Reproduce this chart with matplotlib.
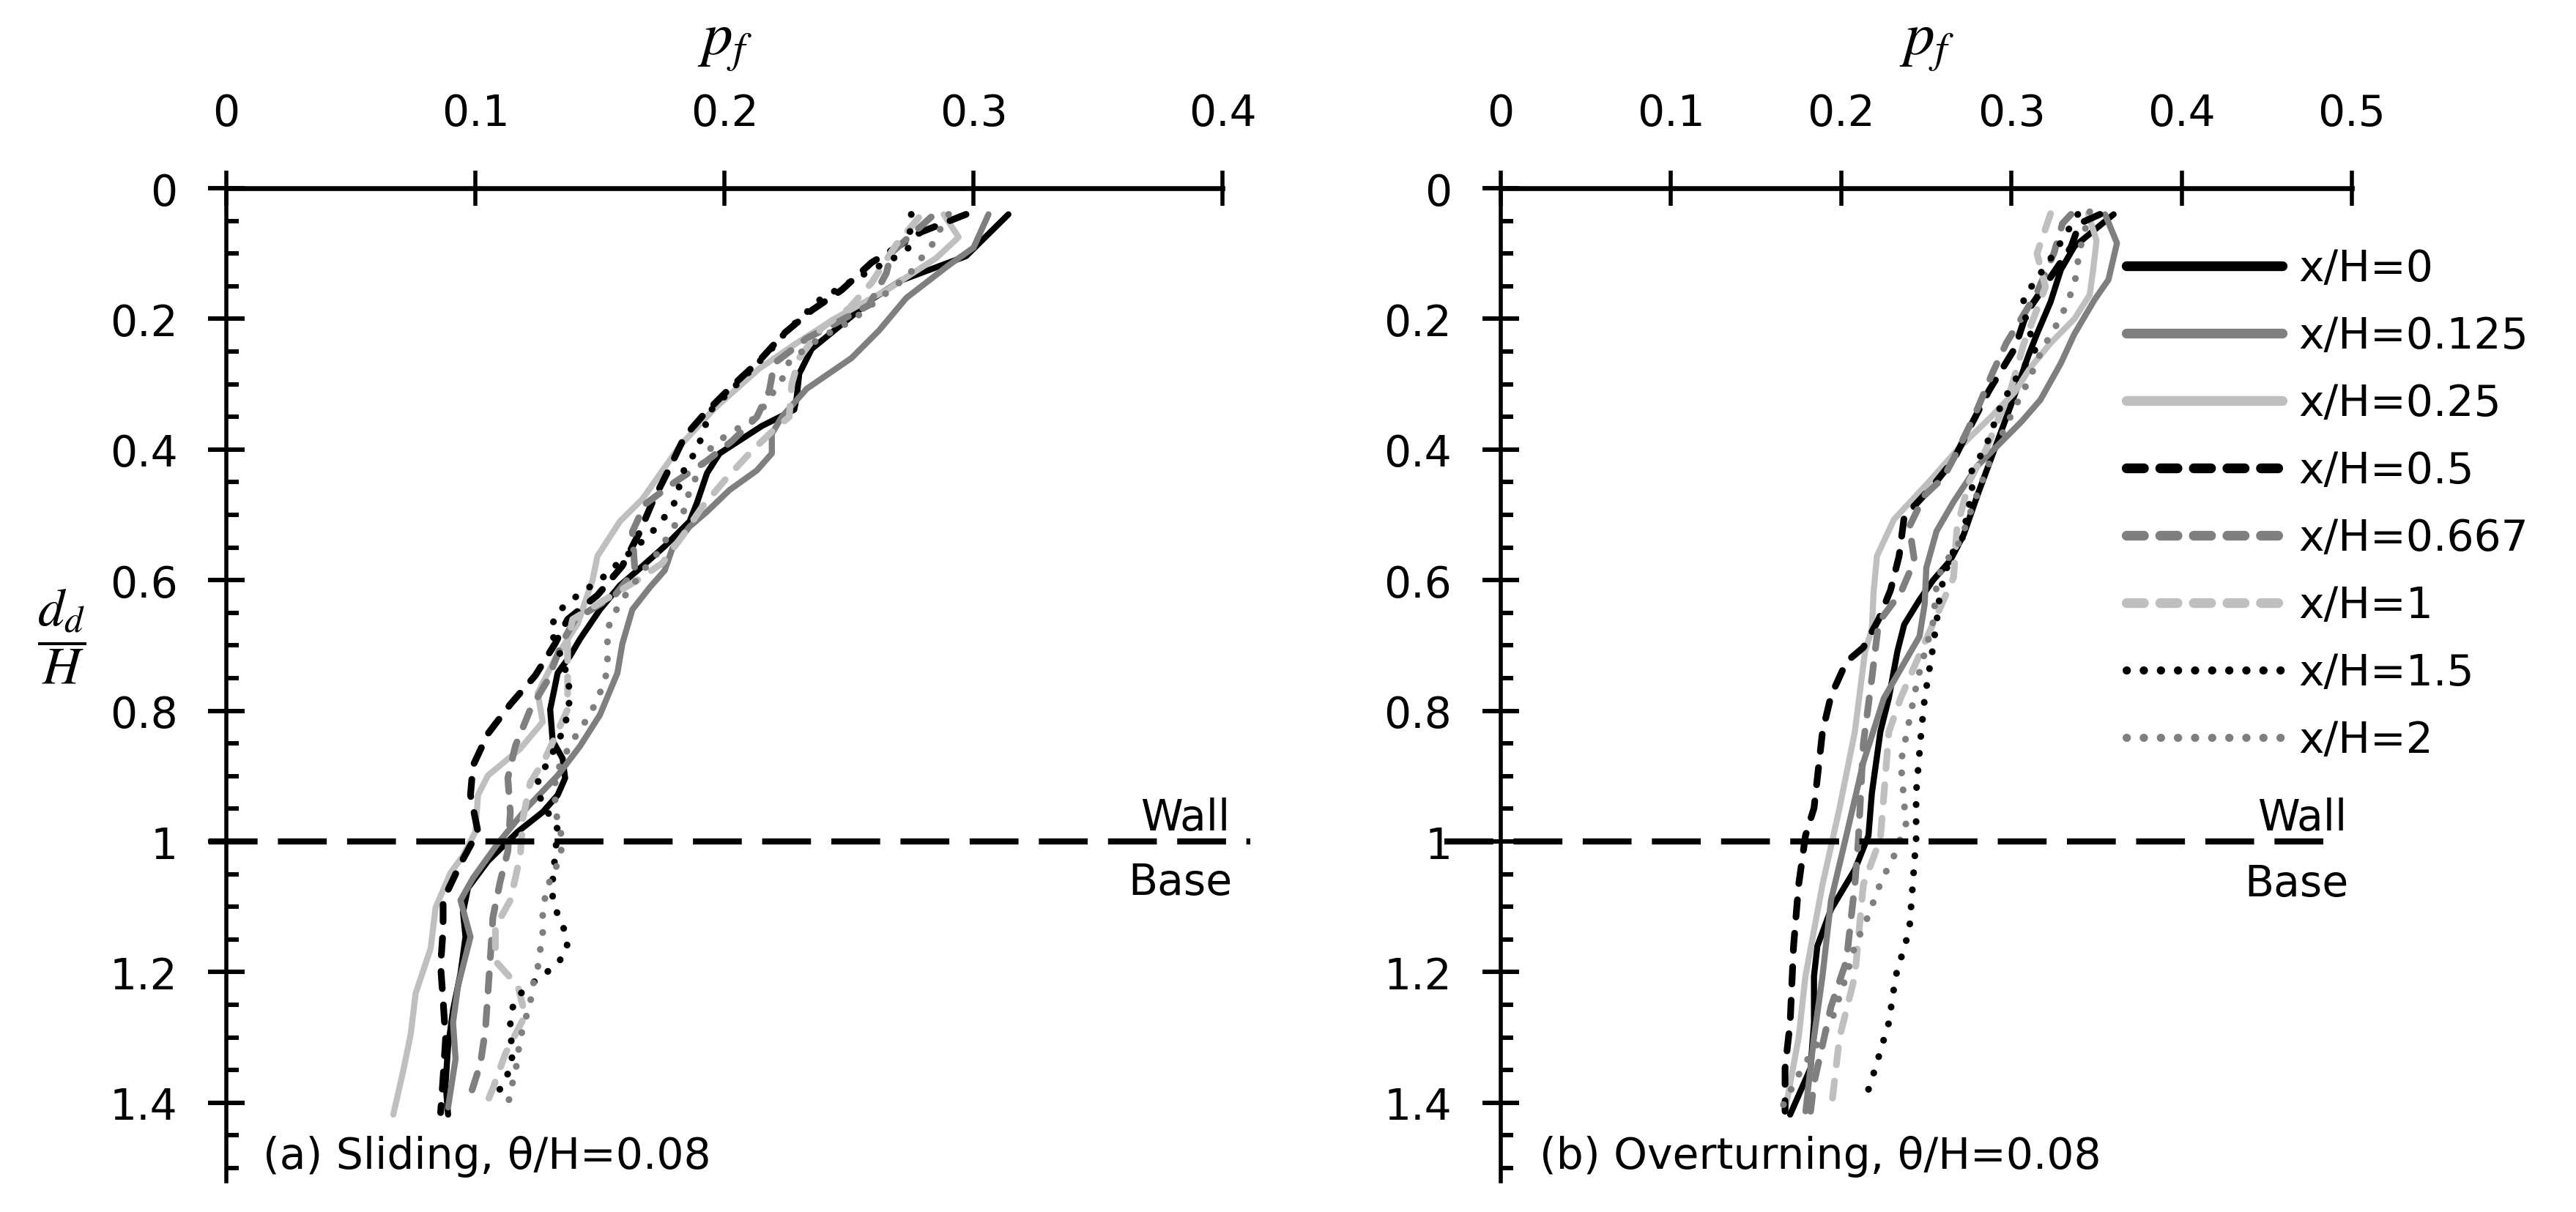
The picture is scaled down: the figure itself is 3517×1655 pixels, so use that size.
import matplotlib
matplotlib.use("Agg")
import matplotlib.pyplot as plt
from matplotlib.ticker import FixedLocator

plt.rcParams['font.family'] = ['DejaVu Sans']
plt.rcParams['font.size'] = 21
plt.rcParams['mathtext.fontset'] = 'stix'
plt.rcParams['lines.scale_dashes'] = False

labels = ["x/H=0", "x/H=0.125", "x/H=0.25", "x/H=0.5",
          "x/H=0.667", "x/H=1", "x/H=1.5", "x/H=2"]

# (a) sliding: depth d_d/H and p_f for every x/H
sl_d0 = [0.04, 0.104, 0.141, 0.168, 0.19, 0.246, 0.284, 0.32, 0.339, 0.364, 0.406, 0.436, 0.481, 0.510, 0.548, 0.582, 0.608, 0.645, 0.69, 0.716, 0.742, 0.798, 0.846, 0.873, 0.903, 0.929, 0.955, 0.985, 1.030, 1.071, 1.108, 1.146, 1.202, 1.258, 1.314, 1.370, 1.418]
sl_p0 = [0.314, 0.297, 0.271, 0.260, 0.253, 0.235, 0.230, 0.229, 0.228, 0.215, 0.198, 0.193, 0.189, 0.186, 0.176, 0.166, 0.158, 0.150, 0.142, 0.138, 0.133, 0.130, 0.131, 0.135, 0.136, 0.133, 0.127, 0.117, 0.105, 0.097, 0.095, 0.096, 0.094, 0.091, 0.089, 0.088, 0.089]
sl_d1 = [0.04, 0.091, 0.118, 0.168, 0.218, 0.260, 0.307, 0.35, 0.376, 0.406, 0.432, 0.462, 0.495, 0.518, 0.552, 0.585, 0.611, 0.645, 0.697, 0.742, 0.806, 0.854, 0.899, 0.947, 1.003, 1.056, 1.090, 1.146, 1.221, 1.277, 1.333, 1.407]
sl_p1 = [0.306, 0.300, 0.290, 0.273, 0.262, 0.251, 0.233, 0.223, 0.219, 0.219, 0.213, 0.202, 0.193, 0.186, 0.179, 0.176, 0.170, 0.163, 0.159, 0.157, 0.150, 0.142, 0.133, 0.121, 0.109, 0.099, 0.094, 0.098, 0.093, 0.091, 0.092, 0.089]
sl_d2 = [0.04, 0.075, 0.107, 0.156, 0.198, 0.237, 0.276, 0.337, 0.395, 0.476, 0.510, 0.563, 0.600, 0.667, 0.720, 0.773, 0.817, 0.858, 0.899, 0.929, 0.985, 1.022, 1.048, 1.101, 1.164, 1.232, 1.295, 1.351, 1.418]
sl_p2 = [0.288, 0.294, 0.285, 0.265, 0.245, 0.229, 0.214, 0.196, 0.182, 0.167, 0.158, 0.149, 0.147, 0.141, 0.132, 0.125, 0.127, 0.118, 0.105, 0.101, 0.100, 0.095, 0.090, 0.084, 0.082, 0.076, 0.074, 0.071, 0.067]
sl_d3 = [0.04, 0.067, 0.114, 0.156, 0.187, 0.222, 0.264, 0.303, 0.345, 0.380, 0.428, 0.481, 0.526, 0.578, 0.623, 0.660, 0.697, 0.746, 0.790, 0.835, 0.884, 0.929, 0.985, 1.034, 1.090, 1.135, 1.190, 1.243, 1.302, 1.362, 1.415]
sl_p3 = [0.297, 0.279, 0.259, 0.247, 0.235, 0.224, 0.214, 0.203, 0.192, 0.184, 0.178, 0.171, 0.166, 0.159, 0.149, 0.137, 0.132, 0.124, 0.114, 0.105, 0.099, 0.098, 0.101, 0.094, 0.087, 0.087, 0.086, 0.087, 0.088, 0.087, 0.086]
sl_d4 = [0.044, 0.099, 0.13, 0.179, 0.206, 0.230, 0.268, 0.310, 0.350, 0.387, 0.417, 0.450, 0.484, 0.526, 0.585, 0.623, 0.660, 0.694, 0.753, 0.798, 0.854, 0.903, 0.955, 1.015, 1.060, 1.116, 1.176, 1.232, 1.288, 1.340, 1.400]
sl_p4 = [0.283, 0.267, 0.265, 0.258, 0.245, 0.233, 0.220, 0.218, 0.213, 0.203, 0.193, 0.180, 0.168, 0.163, 0.164, 0.156, 0.140, 0.135, 0.129, 0.122, 0.116, 0.113, 0.114, 0.113, 0.110, 0.107, 0.106, 0.105, 0.104, 0.102, 0.097]
sl_d5 = [0.045, 0.086, 0.145, 0.184, 0.214, 0.260, 0.30, 0.35, 0.369, 0.402, 0.443, 0.488, 0.533, 0.574, 0.600, 0.660, 0.697, 0.798, 0.873, 0.910, 0.966, 1.022, 1.090, 1.131, 1.183, 1.221, 1.266, 1.325, 1.378, 1.415]
sl_p5 = [0.278, 0.269, 0.259, 0.250, 0.239, 0.230, 0.227, 0.226, 0.220, 0.211, 0.201, 0.191, 0.183, 0.175, 0.165, 0.139, 0.137, 0.137, 0.128, 0.122, 0.119, 0.118, 0.114, 0.108, 0.108, 0.117, 0.120, 0.112, 0.107, 0.103]
sl_d6 = [0.04, 0.091, 0.107, 0.14, 0.176, 0.195, 0.214, 0.25, 0.30, 0.342, 0.380, 0.406, 0.428, 0.454, 0.481, 0.503, 0.526, 0.544, 0.582, 0.600, 0.615, 0.632, 0.649, 0.675, 0.723, 0.749, 0.775, 0.806, 0.832, 0.880, 0.903, 0.933, 0.955, 0.981, 1.02, 1.060, 1.086, 1.112, 1.138, 1.164, 1.187, 1.205, 1.222, 1.241, 1.266, 1.295, 1.322, 1.347, 1.372, 1.396]
sl_p6 = [0.275, 0.274, 0.268, 0.252, 0.236, 0.232, 0.226, 0.218, 0.205, 0.194, 0.191, 0.188, 0.184, 0.182, 0.180, 0.176, 0.171, 0.166, 0.155, 0.150, 0.144, 0.138, 0.133, 0.130, 0.135, 0.137, 0.138, 0.137, 0.135, 0.129, 0.125, 0.126, 0.129, 0.133, 0.132, 0.131, 0.131, 0.133, 0.136, 0.137, 0.133, 0.127, 0.121, 0.116, 0.114, 0.114, 0.115, 0.114, 0.111, 0.107]
sl_d7 = [0.04, 0.067, 0.089, 0.112, 0.133, 0.203, 0.230, 0.265, 0.287, 0.350, 0.364, 0.378, 0.394, 0.462, 0.492, 0.559, 0.582, 0.624, 0.649, 0.675, 0.701, 0.729, 0.755, 0.781, 0.806, 0.828, 0.852, 0.875, 0.899, 0.953, 0.980, 1.005, 1.034, 1.058, 1.084, 1.112, 1.140, 1.166, 1.193, 1.221, 1.247, 1.273, 1.301, 1.327, 1.355, 1.381, 1.407]
sl_p7 = [0.290, 0.286, 0.283, 0.278, 0.274, 0.251, 0.238, 0.226, 0.224, 0.213, 0.207, 0.201, 0.195, 0.186, 0.184, 0.173, 0.168, 0.160, 0.156, 0.153, 0.153, 0.153, 0.152, 0.149, 0.146, 0.142, 0.138, 0.135, 0.132, 0.132, 0.134, 0.135, 0.133, 0.130, 0.128, 0.127, 0.127, 0.126, 0.125, 0.123, 0.122, 0.120, 0.118, 0.117, 0.116, 0.114, 0.113]

# (b) overturning
ov_d0 = [0.04, 0.089, 0.125, 0.174, 0.223, 0.256, 0.33, 0.40, 0.47, 0.53, 0.570, 0.600, 0.630, 0.668, 0.709, 0.78, 0.832, 0.926, 0.991, 1.043, 1.104, 1.160, 1.206, 1.277, 1.347, 1.418]
ov_p0 = [0.360, 0.337, 0.329, 0.323, 0.315, 0.310, 0.300, 0.290, 0.280, 0.272, 0.264, 0.254, 0.246, 0.237, 0.233, 0.228, 0.223, 0.218, 0.216, 0.208, 0.194, 0.186, 0.184, 0.184, 0.182, 0.170]
ov_d1 = [0.04, 0.084, 0.14, 0.17, 0.223, 0.268, 0.324, 0.357, 0.399, 0.425, 0.480, 0.525, 0.581, 0.637, 0.686, 0.781, 0.879, 0.991, 1.090, 1.206, 1.300, 1.413]
ov_p1 = [0.355, 0.362, 0.357, 0.349, 0.337, 0.329, 0.317, 0.306, 0.290, 0.280, 0.266, 0.256, 0.250, 0.249, 0.246, 0.225, 0.213, 0.203, 0.194, 0.189, 0.184, 0.179]
ov_d2 = [0.039, 0.080, 0.125, 0.163, 0.200, 0.237, 0.275, 0.312, 0.35, 0.398, 0.451, 0.507, 0.563, 0.619, 0.675, 0.709, 0.832, 0.949, 1.066, 1.206, 1.300, 1.413]
ov_p2 = [0.345, 0.350, 0.348, 0.346, 0.337, 0.323, 0.311, 0.302, 0.288, 0.269, 0.251, 0.231, 0.221, 0.219, 0.218, 0.214, 0.208, 0.199, 0.189, 0.179, 0.175, 0.167]
ov_d3 = [0.04, 0.054, 0.09, 0.19, 0.245, 0.309, 0.369, 0.416, 0.455, 0.503, 0.563, 0.615, 0.660, 0.703, 0.725, 0.777, 0.832, 0.949, 0.991, 1.066, 1.160, 1.277, 1.347, 1.413]
ov_p3 = [0.352, 0.340, 0.335, 0.309, 0.302, 0.287, 0.275, 0.266, 0.254, 0.237, 0.234, 0.229, 0.222, 0.213, 0.203, 0.194, 0.189, 0.184, 0.179, 0.175, 0.172, 0.170, 0.167, 0.167]
ov_d4 = [0.04, 0.054, 0.099, 0.16, 0.237, 0.282, 0.35, 0.414, 0.443, 0.470, 0.518, 0.570, 0.619, 0.664, 0.75, 0.85, 1.0, 1.066, 1.183, 1.253, 1.370, 1.413]
ov_p4 = [0.335, 0.330, 0.325, 0.315, 0.297, 0.289, 0.278, 0.266, 0.260, 0.249, 0.240, 0.243, 0.235, 0.222, 0.218, 0.213, 0.210, 0.208, 0.203, 0.194, 0.184, 0.182]
ov_d5 = [0.039, 0.100, 0.151, 0.24, 0.305, 0.40, 0.45, 0.52, 0.596, 0.690, 0.78, 0.832, 0.996, 1.066, 1.206, 1.300, 1.413]
ov_p5 = [0.323, 0.315, 0.320, 0.307, 0.300, 0.285, 0.275, 0.268, 0.266, 0.250, 0.235, 0.228, 0.223, 0.213, 0.208, 0.199, 0.194]
ov_d6 = [0.04, 0.10, 0.146, 0.168, 0.196, 0.247, 0.290, 0.331, 0.395, 0.436, 0.462, 0.537, 0.563, 0.619, 0.645, 0.701, 0.781, 0.832, 0.926, 0.996, 1.066, 1.136, 1.206, 1.277, 1.347, 1.404]
ov_p6 = [0.339, 0.325, 0.313, 0.307, 0.308, 0.314, 0.303, 0.294, 0.285, 0.276, 0.277, 0.271, 0.264, 0.258, 0.257, 0.254, 0.249, 0.247, 0.244, 0.244, 0.242, 0.240, 0.232, 0.228, 0.220, 0.213]
ov_d7 = [0.036, 0.096, 0.148, 0.198, 0.247, 0.295, 0.320, 0.40, 0.488, 0.540, 0.581, 0.608, 0.664, 0.75, 0.879, 0.973, 1.029, 1.057, 1.113, 1.160, 1.206, 1.277, 1.347, 1.408]
ov_p7 = [0.346, 0.340, 0.337, 0.329, 0.318, 0.310, 0.305, 0.290, 0.277, 0.270, 0.259, 0.256, 0.254, 0.245, 0.235, 0.238, 0.230, 0.224, 0.216, 0.208, 0.203, 0.194, 0.177, 0.165]

sliding = [(sl_d0, sl_p0), (sl_d1, sl_p1), (sl_d2, sl_p2), (sl_d3, sl_p3),
           (sl_d4, sl_p4), (sl_d5, sl_p5), (sl_d6, sl_p6), (sl_d7, sl_p7)]
overturning = [(ov_d0, ov_p0), (ov_d1, ov_p1), (ov_d2, ov_p2), (ov_d3, ov_p3),
               (ov_d4, ov_p4), (ov_d5, ov_p5), (ov_d6, ov_p6), (ov_d7, ov_p7)]

ytick_vals = [0, 0.2, 0.4, 0.6, 0.8, 1.0, 1.2, 1.4]
ytick_labels = ["0", "0.2", "0.4", "0.6", "0.8", "1", "1.2", "1.4"]
xtick_a = ["0", "0.1", "0.2", "0.3", "0.4"]
xtick_b = ["0", "0.1", "0.2", "0.3", "0.4", "0.5"]

black, gray, light = '#000000', '#7f7f7f', '#bfbfbf'
dash = (0, (8.5, 8.0))
dot = (0, (0.1, 8.3))
styles = [('-', black), ('-', gray), ('-', light),
          (dash, black), (dash, gray), (dash, light),
          (dot, black), (dot, gray)]

fig = plt.figure(figsize=(3517 / 200, 1656 / 200), dpi=200)
ax_a = fig.add_axes([0.0879, 0.0254, 0.3867, 0.8188])
ax_b = fig.add_axes([0.5826, 0.0254, 0.3304, 0.8188])


def setup(ax, xmax, xlabels):
    ax.set_xlim(0, xmax)
    ax.set_ylim(1.52, 0)
    for s in ['bottom', 'right']:
        ax.spines[s].set_visible(False)
    ax.spines['top'].set_linewidth(2.4)
    ax.spines['left'].set_linewidth(2.0)
    ax.xaxis.tick_top()
    ax.set_xticks([i * 0.1 for i in range(len(xlabels))])
    ax.set_xticklabels(xlabels)
    ax.set_yticks(ytick_vals)
    ax.set_yticklabels(ytick_labels)
    ax.yaxis.set_minor_locator(FixedLocator([i * 0.05 for i in range(1, 31)]))
    ax.tick_params(axis='x', which='major', direction='inout', length=17,
                   width=2.0, pad=18)
    ax.tick_params(axis='y', which='major', direction='inout', length=18,
                   width=2.2, pad=15)
    ax.tick_params(axis='y', which='minor', direction='in', length=6, width=2.2)


def draw(ax, data):
    lines = []
    for (d, p), (ls, c) in zip(data, styles):
        lw = 3.0 if ls == '-' else 3.3
        ln, = ax.plot(p, d, linestyle=ls, color=c, lw=lw,
                      dash_capstyle='round', solid_capstyle='round',
                      solid_joinstyle='round')
        lines.append(ln)
    return lines


setup(ax_a, 0.4, xtick_a)
setup(ax_b, 0.5, xtick_b)
draw(ax_a, sliding)
handles = draw(ax_b, overturning)

# wall / base line
ax_a.plot([-0.007, 0.411], [1.0, 1.0], color='black', lw=3.0,
          linestyle=(0, (24, 10)), clip_on=False)
ax_b.plot([-0.033, 0.493], [1.0, 1.0], color='black', lw=3.0,
          linestyle=(0, (24, 10)), clip_on=False)
ax_a.text(0.403, 0.982, "Wall", ha='right', va='baseline')
ax_a.text(0.404, 1.081, "Base", ha='right', va='baseline')
ax_b.text(0.497, 0.982, "Wall", ha='right', va='baseline', clip_on=False)
ax_b.text(0.498, 1.083, "Base", ha='right', va='baseline', clip_on=False)

ax_a.text(0.0147, 1.50, "(a) Sliding, θ/H=0.08", ha='left', va='baseline')
ax_b.text(0.0228, 1.50, "(b) Overturning, θ/H=0.08", ha='left', va='baseline')

fig.text(0.0879 + 0.3867 / 2, 0.955, r'$p_f$', fontsize=30, ha='center', va='baseline')
fig.text(0.5826 + 0.3304 / 2, 0.955, r'$p_f$', fontsize=30, ha='center', va='baseline')
fig.text(0.0239, 0.4752, r'$\dfrac{d_d}{H}$', fontsize=26, ha='center', va='center')

leg = fig.legend(handles, labels, loc='upper left', bbox_to_anchor=(0.8254, 0.795),
                 frameon=False, handlelength=3.65, handletextpad=0.38,
                 labelspacing=0.60, borderpad=0, borderaxespad=0)
for ln, (ls, c) in zip(leg.get_lines(), styles):
    ln.set_linewidth(4.0 if ls == dot else 4.8)

fig.savefig("out.png", dpi=200)
